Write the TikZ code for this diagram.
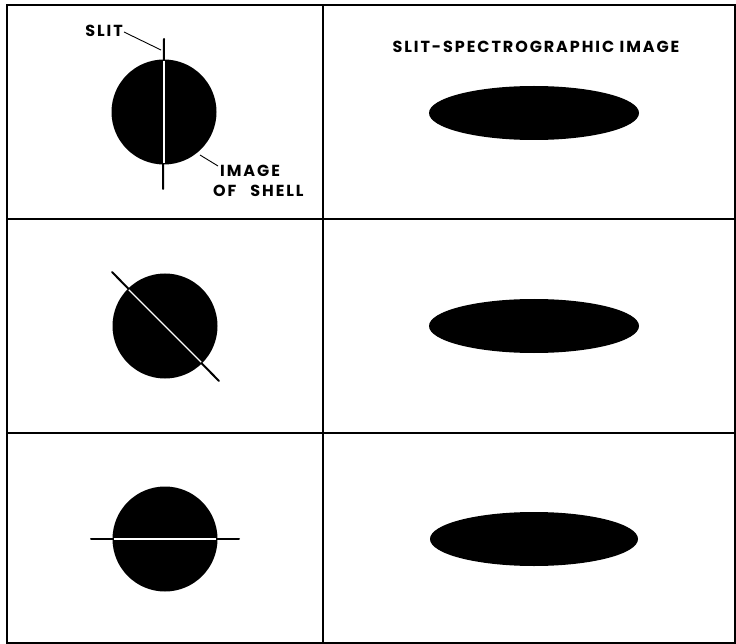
\documentclass[tikz,border=0pt]{standalone}
\usepackage{fontspec}
\setmainfont{Poppins}
\newfontfamily\lblfont{Poppins}[LetterSpace=12]
\usetikzlibrary{positioning}

\begin{document}
\begin{tikzpicture}[x=1pt, y=-1pt,
	shell/.style={circle, fill=black, minimum size=105pt, inner sep=0pt},
	slit/.style={line width=2pt, line cap=round},
	gap/.style={white, line width=1.2pt, shorten <=1.5pt, shorten >=1.5pt},
	lbl/.style={font=\lblfont\bfseries\fontsize{16}{20}\selectfont, inner sep=0pt},
	leader/.style={line width=0.9pt},
	rule/.style={line width=1.3pt}]
	\useasboundingbox (0,0) rectangle (736,644);
	% table
	\draw[rule] (7,5) rectangle (735,643);
	\draw[rule] (323,5) -- (323,643);
	\draw[rule] (7,219) -- (735,219) (7,433) -- (735,433);
	\node[lbl] (title) at (536,47) {SLIT-SPECTROGRAPHIC IMAGE};
	% shells with the slit across them
	\node[shell] (shellA) at (164,112) {};
	\draw[slit] (164,39) -- (163,189);
	\draw[gap] (shellA.north) -- (shellA.south);
	\node[shell] (shellB) at (165,326) {};
	\draw[slit] (112,272) -- (219,381);
	\draw[gap] (shellB.north west) -- (shellB.south east);
	\node[shell] (shellC) at (165,539) {};
	\draw[slit] (91,539) -- (239,539);
	\draw[gap] (shellC.west) -- (shellC.east);
	% spectrographic images
	\fill (534,113) ellipse (105pt and 27pt);
	\fill (534,326) ellipse (105pt and 27pt);
	\fill (534,539) ellipse (104pt and 27pt);
	% labels
	\node[lbl, anchor=east] (slitlbl) at (123,31) {SLIT};
	\coordinate (slittip) at (161,50);
	\draw[leader] ([xshift=1pt, yshift=-1pt]slitlbl.east) -- (slittip);
	\node[lbl, align=left, anchor=north west] (shelllbl) at (213,165) {\hspace*{7pt}IMAGE\\OF\hspace{14pt}SHELL};
	\coordinate (shelltip) at (200,155);
	\draw[leader] (shelltip) -- ([xshift=5pt, yshift=-1pt]shelllbl.north west);
\end{tikzpicture}
\end{document}
